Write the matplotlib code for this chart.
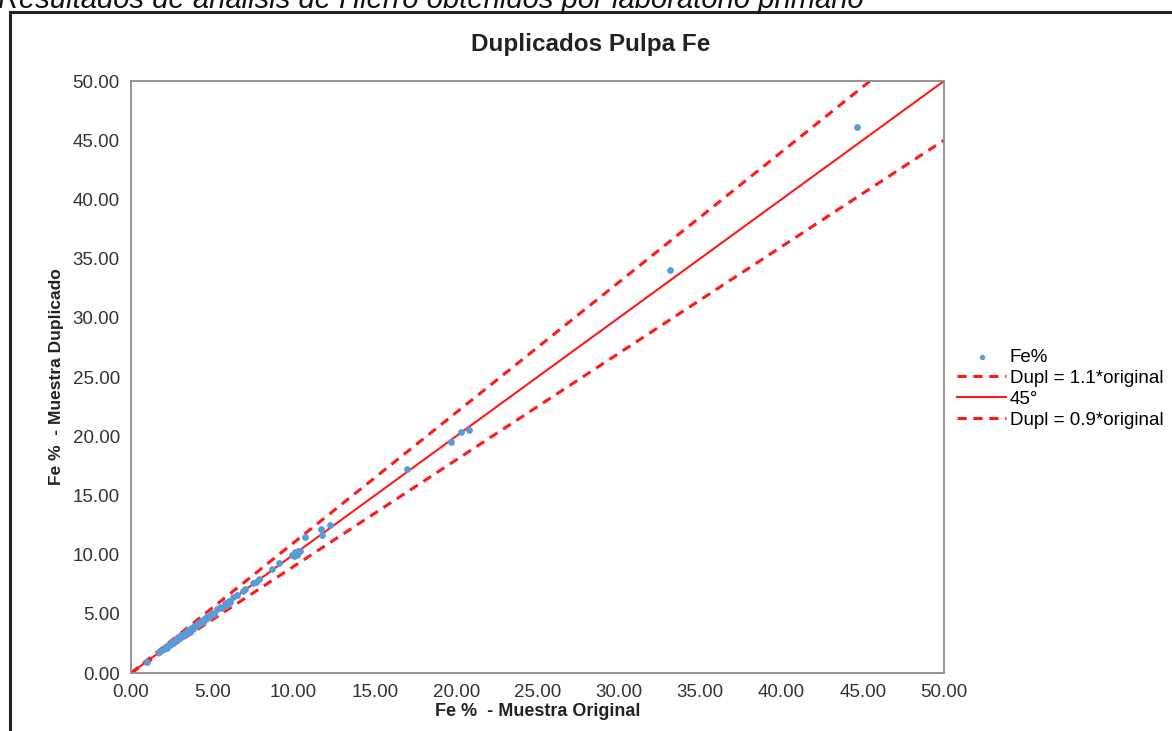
"""Duplicate pulp Fe scatter vs original, with 45 deg and +/-10% lines."""
import matplotlib
matplotlib.use("Agg")
import matplotlib.pyplot as plt
from matplotlib.patches import Rectangle

# original vs duplicate Fe %
fe_original = [
    1.0, 1.7, 1.8, 2.0, 2.1, 2.2, 2.3, 2.4, 2.5, 2.6, 2.7, 2.8, 2.9, 3.0,
    3.1, 3.2, 3.3, 3.4, 3.5, 3.6, 3.7, 3.8, 3.9, 4.0, 4.1, 4.2, 4.3, 4.4,
    4.5, 4.6, 4.7, 4.8, 5.0, 5.1, 5.3, 5.5, 5.6, 5.8, 5.9, 6.0, 6.1, 6.3,
    6.5, 6.9, 7.0, 7.5, 7.7, 7.9, 8.7, 9.1, 9.9, 10.0, 10.1, 10.2, 10.3,
    10.4, 10.7, 11.7, 11.75, 12.25, 17.0, 19.7, 20.3, 20.8, 33.15, 44.65,
]
fe_duplicate = [
    0.95, 1.75, 1.9, 2.05, 2.2, 2.15, 2.4, 2.35, 2.6, 2.55, 2.8, 2.75, 3.0, 2.95,
    3.2, 3.15, 3.4, 3.35, 3.6, 3.5, 3.8, 3.7, 4.0, 3.95, 4.25, 4.1, 4.4, 4.3,
    4.6, 4.55, 4.8, 4.7, 5.1, 5.0, 5.4, 5.6, 5.5, 5.9, 5.75, 6.1, 6.0, 6.4,
    6.6, 6.9, 7.1, 7.6, 7.7, 7.9, 8.75, 9.3, 10.0, 9.9, 10.2, 10.0, 10.3,
    10.3, 11.5, 12.15, 11.65, 12.5, 17.2, 19.5, 20.35, 20.5, 34.0, 46.1,
]

AX_MAX = 50.0
ticks = [0, 5, 10, 15, 20, 25, 30, 35, 40, 45, 50]
line_hi = [0.0, AX_MAX / 1.1]
line_45 = [0.0, AX_MAX]

W, H = 1172, 731
fig = plt.figure(figsize=(W / 100, H / 100), dpi=100)
plt.rcParams["font.family"] = ["Liberation Sans", "DejaVu Sans"]

# outer frame of the document figure, cut by the image edges
fig.patches.append(Rectangle((10 / W, -0.05), 1.1, 1 - 12 / H + 0.05,
                             transform=fig.transFigure, fill=False,
                             edgecolor="#222222", linewidth=2.2))
fig.text(-0.002, 1 - 8 / H, "Resultados de análisis de Hierro obtenidos por laboratorio primario",
         fontsize=21, style="italic", ha="left", va="baseline", color="#111111")
fig.text(591 / W, 1 - 45 / H, "Duplicados Pulpa Fe", fontsize=17.5,
         fontweight="bold", ha="center", va="center", color="#222222")

ax = fig.add_axes([131 / W, 1 - 673 / H, (944 - 131) / W, (673 - 81) / H])

ax.scatter(fe_original, fe_duplicate, s=24, color="#5B9BD5", zorder=3,
           linewidths=0, label="Fe%")
ax.plot(line_hi, [v * 1.1 for v in line_hi], color="#FF1A1A", lw=2.2,
        ls=(0, (3, 2.2)), label="Dupl = 1.1*original")
ax.plot(line_45, line_45, color="#FF1A1A", lw=1.5, label="45°")
ax.plot(line_45, [v * 0.9 for v in line_45], color="#FF1A1A", lw=2.2,
        ls=(0, (3, 2.2)), label="Dupl = 0.9*original")

ax.set_xlim(0, AX_MAX)
ax.set_ylim(0, AX_MAX)
ax.set_xticks(ticks)
ax.set_yticks(ticks)
ax.set_xticklabels([f"{t:.2f}" for t in ticks])
ax.set_yticklabels([f"{t:.2f}" for t in ticks])
ax.tick_params(length=0, labelsize=13.5, colors="#333333", pad=8)
for sp in ax.spines.values():
    sp.set_color("#8c8c8c")
    sp.set_linewidth(1.3)

ax.set_xlabel("Fe %  - Muestra Original", fontsize=13, fontweight="bold",
              color="#222222", labelpad=1)
ax.set_ylabel("Fe %  - Muestra Duplicado", fontsize=12.5, fontweight="bold",
              color="#222222", labelpad=6)

ax.legend(loc="center left", bbox_to_anchor=(1.0, 0.48), frameon=False,
          fontsize=13.5, handlelength=2.6, handletextpad=0.2, labelspacing=0.2,
          borderaxespad=0.3, markerscale=0.8)

fig.savefig("out.png", dpi=100)
